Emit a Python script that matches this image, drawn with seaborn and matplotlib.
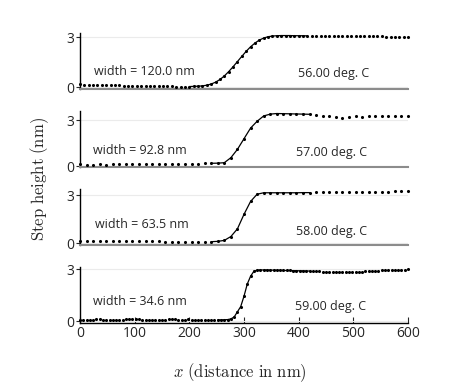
import numpy as np
import pandas as pd
import matplotlib
matplotlib.use("Agg")
import matplotlib.pyplot as plt
import seaborn as sns

# step profiles, one per temperature (x sampled on an even grid)
temps = ["56.00 deg. C", "57.00 deg. C", "58.00 deg. C", "59.00 deg. C"]
widths = ["width = 120.0 nm", "width = 92.8 nm", "width = 63.5 nm", "width = 34.6 nm"]
n_points = [76, 51, 51, 101]

h_56 = [0.18, 0.17, 0.17, 0.16, 0.15, 0.15, 0.14, 0.13, 0.13, 0.12,
        0.11, 0.10, 0.10, 0.09, 0.09, 0.08, 0.08, 0.07, 0.07, 0.06,
        0.06, 0.06, 0.05, 0.05, 0.05, 0.05, 0.06, 0.07, 0.09, 0.13,
        0.20, 0.31, 0.47, 0.68, 0.94, 1.23, 1.54, 1.85, 2.15, 2.42,
        2.64, 2.82, 2.94, 3.02, 3.06, 3.08, 3.09, 3.09, 3.09, 3.08,
        3.08, 3.08, 3.07, 3.07, 3.07, 3.06, 3.06, 3.06, 3.06, 3.05,
        3.05, 3.05, 3.05, 3.05, 3.04, 3.04, 3.04, 3.04, 3.04, 3.04,
        3.03, 3.03, 3.03, 3.03, 3.03, 3.03]
h_57 = [0.12, 0.10, 0.10, 0.11, 0.10, 0.11, 0.11, 0.11, 0.12, 0.12,
        0.12, 0.13, 0.13, 0.13, 0.14, 0.14, 0.15, 0.15, 0.16, 0.17,
        0.18, 0.19, 0.22, 0.55, 1.10, 1.80, 2.50, 2.95, 3.30, 3.42,
        3.46, 3.45, 3.44, 3.43, 3.42, 3.41, 3.35, 3.30, 3.28, 3.25,
        3.18, 3.26, 3.30, 3.24, 3.30, 3.31, 3.30, 3.32, 3.31, 3.32,
        3.31]
h_58 = [0.16, 0.16, 0.15, 0.16, 0.15, 0.15, 0.14, 0.15, 0.14, 0.14,
        0.14, 0.13, 0.12, 0.06, 0.05, 0.06, 0.07, 0.07, 0.08, 0.09,
        0.10, 0.12, 0.18, 0.42, 0.90, 1.80, 2.60, 3.05, 3.14, 3.14,
        3.14, 3.14, 3.14, 3.14, 3.15, 3.15, 3.18, 3.19, 3.19, 3.20,
        3.19, 3.20, 3.20, 3.21, 3.20, 3.21, 3.21, 3.21, 3.22, 3.22,
        3.22]
h_59 = [0.07, 0.08, 0.09, 0.09, 0.10, 0.11, 0.11, 0.10, 0.09, 0.08,
        0.07, 0.07, 0.08, 0.09, 0.11, 0.12, 0.13, 0.13, 0.12, 0.10,
        0.08, 0.07, 0.07, 0.06, 0.07, 0.08, 0.10, 0.12, 0.13, 0.12,
        0.10, 0.08, 0.09, 0.11, 0.10, 0.07, 0.06, 0.05, 0.05, 0.06,
        0.07, 0.07, 0.08, 0.08, 0.09, 0.10, 0.14, 0.25, 0.55, 0.85,
        1.45, 2.15, 2.60, 2.88, 2.95, 2.96, 2.96, 2.96, 2.95, 2.95,
        2.94, 2.94, 2.93, 2.93, 2.93, 2.92, 2.92, 2.91, 2.91, 2.90,
        2.90, 2.89, 2.89, 2.88, 2.87, 2.86, 2.86, 2.85, 2.84, 2.83,
        2.83, 2.84, 2.84, 2.85, 2.86, 2.87, 2.87, 2.88, 2.88, 2.89,
        2.90, 2.92, 2.93, 2.94, 2.93, 2.95, 2.98, 2.96, 2.97, 2.98,
        2.99]
heights = [h_56, h_57, h_58, h_59]

# x range where the fitted curve is drawn
fit_lo = [200, 240, 240, 250]
fit_hi = [420, 420, 420, 420]

# label positions (data coords)
width_pos = [(26, 0.92), (23, 1.0), (27, 1.14), (24, 1.12)]
temp_pos = [(398, 0.84), (396, 0.92), (395, 0.72), (393, 0.85)]

sns.set_style("white")
plt.rcParams["font.family"] = ["Open Sans", "DejaVu Sans"]
plt.rcParams["mathtext.fontset"] = "cm"

fig, axes = plt.subplots(4, 1, figsize=(4.73, 3.89), dpi=100, sharex=True)
fig.subplots_adjust(left=80 / 473, right=408 / 473, top=1 - 33 / 389,
                    bottom=1 - 323 / 389, hspace=0.39)

for i, ax in enumerate(axes):
    df = pd.DataFrame({"x": np.linspace(0, 600, n_points[i]), "h": heights[i]})
    fit = df[(df["x"] >= fit_lo[i]) & (df["x"] <= fit_hi[i])]
    sns.lineplot(data=fit, x="x", y="h", ax=ax, color="black", lw=0.9)
    sns.scatterplot(data=df, x="x", y="h", ax=ax, color="black", s=5,
                    linewidth=0, zorder=3, clip_on=False)

    ax.set_xlim(0, 600)
    ax.set_yticks([0, 3])
    ax.grid(axis="y", color="#ebebeb", lw=0.8)
    ax.set_axisbelow(True)
    for s in ["top", "right"]:
        ax.spines[s].set_visible(False)
    ax.spines["left"].set_color("black")
    ax.spines["left"].set_linewidth(1.0)
    ax.tick_params(axis="y", direction="out", length=3, width=0.8,
                   labelsize=10, pad=1, left=True)
    ax.set_xlabel("")
    ax.set_ylabel("")

    ax.text(*width_pos[i], widths[i], fontsize=9, va="center")
    ax.text(*temp_pos[i], temps[i], fontsize=9, va="center")

    if i < 3:
        ax.spines["bottom"].set_color("#8c8c8c")
        ax.spines["bottom"].set_linewidth(1.5)
        ax.tick_params(axis="x", bottom=False, labelbottom=False)
    else:
        ax.spines["bottom"].set_color("black")
        ax.spines["bottom"].set_linewidth(1.0)
        ax.set_xticks([0, 100, 200, 300, 400, 500, 600])
        ax.tick_params(axis="x", direction="in", length=4, width=0.8,
                       labelsize=10, pad=2, bottom=True)

fig.text(240 / 473, 1 - 373 / 389, r"$x\ \mathrm{(distance\ in\ nm)}$",
         ha="center", va="center", fontsize=12)
fig.text(40 / 473, 1 - 179 / 389, r"$\mathrm{Step\ height\ (nm)}$",
         ha="center", va="center", rotation=90, fontsize=12)

fig.savefig("out.png", dpi=100)
